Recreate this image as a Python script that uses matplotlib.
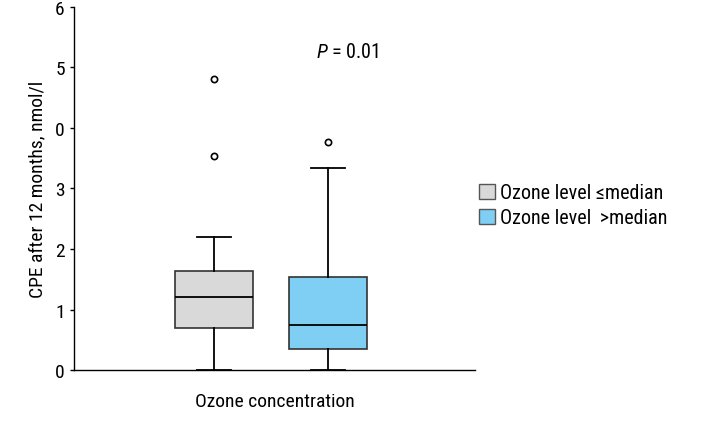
import matplotlib
matplotlib.use("Agg")
import matplotlib.pyplot as plt
from matplotlib.patches import Patch

# Werte (CPE nach 12 Monaten, nmol/l)
GROUPS = ["Ozone level \u2264median", "Ozone level \u2009>median"]
WHISLO = [0.0, 0.0]
Q1 = [0.70, 0.35]
MEDIAN = [1.21, 0.745]
Q3 = [1.64, 1.54]
WHISHI = [2.20, 3.34]
FLIERS = [[3.54, 4.80], [3.76]]
COLORS = ["#d9d9d9", "#7fcff5"]

YTICKS = [0, 1, 2, 3, 4, 5, 6]
YTICKLABELS = ["0", "1", "2", "3", "0", "5", "6"]

plt.rcParams["font.family"] = ["Roboto Condensed", "Roboto", "DejaVu Sans"]
plt.rcParams["mathtext.fontset"] = "custom"
plt.rcParams["mathtext.it"] = "Roboto Condensed:italic"
FS = 14

fig = plt.figure(figsize=(7.03, 4.35), dpi=100)
ax = fig.add_axes([0.105, 0.147, 0.571, 0.835])

stats = [
    {"whislo": WHISLO[i], "q1": Q1[i], "med": MEDIAN[i], "q3": Q3[i],
     "whishi": WHISHI[i], "fliers": FLIERS[i]}
    for i in range(len(GROUPS))
]
bp = ax.bxp(stats, positions=[1, 2], widths=0.69, capwidths=0.3,
            patch_artist=True, showfliers=True,
            boxprops=dict(edgecolor="#333333", linewidth=1.2),
            medianprops=dict(color="black", linewidth=1.3),
            whiskerprops=dict(color="black", linewidth=1.3),
            capprops=dict(color="black", linewidth=1.3),
            flierprops=dict(marker="o", markersize=4.5, markerfacecolor="white",
                            markeredgecolor="black", markeredgewidth=1.2))
for patch, c in zip(bp["boxes"], COLORS):
    patch.set_facecolor(c)

ax.set_xlim(-0.228, 3.289)
ax.set_ylim(0, 6)
ax.set_yticks(YTICKS)
ax.set_yticklabels(YTICKLABELS, fontsize=FS)
ax.set_xticks([])
ax.tick_params(axis="y", length=3, width=1)
for s in ["top", "right"]:
    ax.spines[s].set_visible(False)
ax.spines["left"].set_linewidth(1)
ax.spines["bottom"].set_linewidth(1)

ax.set_ylabel("CPE after 12 months, nmol/l", fontsize=FS, labelpad=6)
ax.set_xlabel("Ozone concentration", fontsize=FS, labelpad=16)

ax.text(2.17, 5.27, "$P$ = 0.01", fontsize=FS + 0.5, ha="center", va="center")

handles = [Patch(facecolor=c, edgecolor="#555555", label=g)
           for g, c in zip(GROUPS, COLORS)]
fig.legend(handles=handles, loc="upper left", bbox_to_anchor=(0.656, 0.618),
           frameon=False, fontsize=FS + 0.5, handlelength=0.8, handleheight=0.8,
           handletextpad=0.25, labelspacing=0.3)

fig.savefig("out.png", dpi=100)
